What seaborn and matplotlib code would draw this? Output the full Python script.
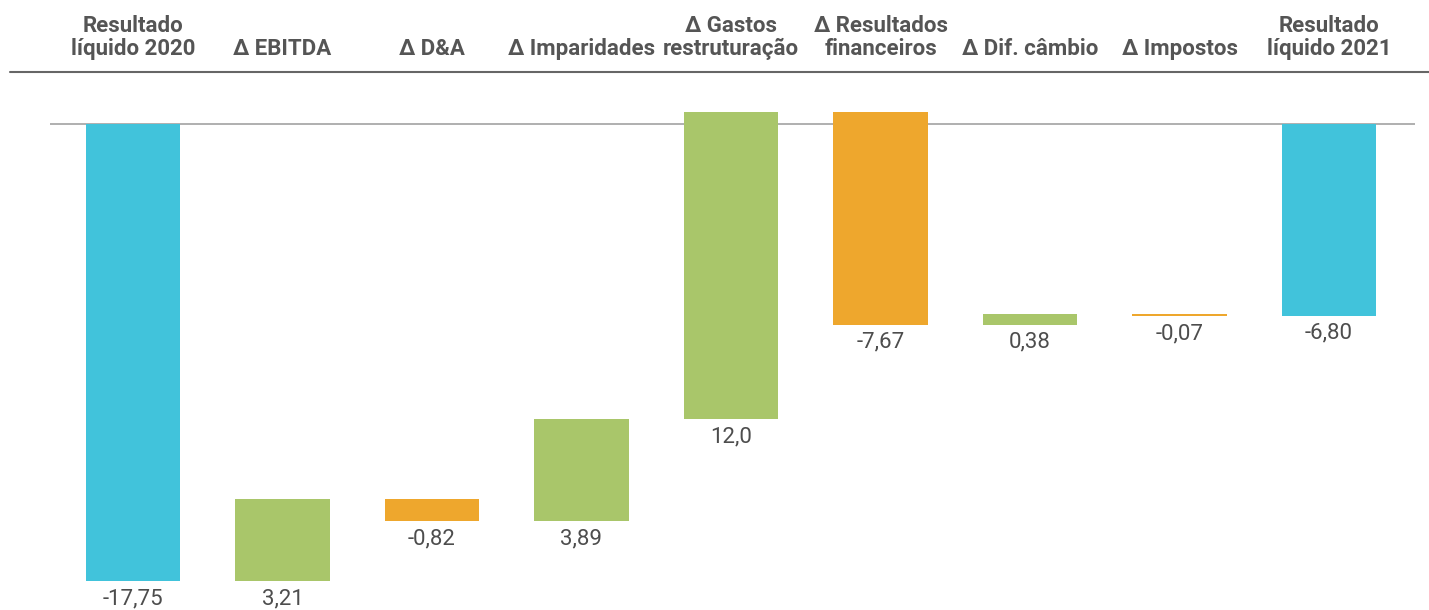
import matplotlib
matplotlib.use("Agg")
import matplotlib.pyplot as plt
import matplotlib.transforms as mtransforms
from matplotlib import font_manager
import seaborn as sns
import numpy as np

sns.set_theme(style="white")

# fonte: a primeira que existir
nomes = {f.name for f in font_manager.fontManager.ttflist}
familia = [n for n in ["Liberation Sans Narrow", "DejaVu Sans Condensed", "Roboto", "DejaVu Sans"] if n in nomes]
plt.rcParams['font.family'] = familia

# dados
categorias = ["Resultado\nlíquido 2020", "Δ EBITDA", "Δ D&A", "Δ Imparidades",
              "Δ Gastos\nrestruturação", "Δ Resultados\nfinanceiros", "Δ Dif. câmbio",
              "Δ Impostos", "Resultado\nlíquido 2021"]
# valores anunciados nos rótulos
rotulos = ["-17,75", "3,21", "-0,82", "3,89", "12,0", "-7,67", "0,38", "-0,07", "-6,80"]
# alturas das barras tal como desenhadas no gráfico original (não está à escala exata)
alturas = [-17.75, 3.20, -0.87, 3.96, 11.92, -8.26, 0.42, -0.09, -7.45]
tipo = ["total", "delta", "delta", "delta", "delta", "delta", "delta", "delta", "total"]

cores = {"total": "#41C3DB", "pos": "#A9C66A", "neg": "#EEA72D"}

# base e topo de cada barra (cascata)
inicio, fim = [], []
acum = 0.0
for v, t in zip(alturas, tipo):
    if t == "total":
        inicio.append(0.0)
        fim.append(v)
        acum = v
    else:
        inicio.append(acum)
        acum = acum + v
        fim.append(acum)
baixo = np.minimum(inicio, fim)
alto = np.maximum(inicio, fim)

paleta = []
for v, t in zip(alturas, tipo):
    if t == "total":
        paleta.append(cores["total"])
    elif v >= 0:
        paleta.append(cores["pos"])
    else:
        paleta.append(cores["neg"])

fig = plt.figure(figsize=(14.29, 6.10), dpi=100)
ax = fig.add_axes([50 / 1429, 0.0, (1415 - 50) / 1429, 1 - 90 / 610])

x = list(range(len(categorias)))
sns.barplot(x=x, y=alturas, hue=x, palette=paleta, legend=False, width=0.63,
            saturation=1, ax=ax, native_scale=True)

# reposiciona as barras para formar a cascata
for p in ax.patches:
    i = int(round(p.get_x() + p.get_width() / 2))
    p.set_y(baixo[i])
    p.set_height(alto[i] - baixo[i])
    p.set_edgecolor("none")

ax.set_xlim(-0.555, 8.575)
ax.set_ylim(-18.87, 1.32)
ax.axhline(0, color="#9a9a9a", lw=1.1, zorder=0)

for i in x:
    ax.annotate(rotulos[i], (i, baixo[i]), xytext=(0, -5), textcoords="offset points",
                ha="center", va="top", fontsize=16, color="#4d4d4d")

# cabeçalhos
trans = mtransforms.blended_transform_factory(ax.transData, fig.transFigure)
for i, c in enumerate(categorias):
    ax.text(i, 1 - 60 / 610, c, transform=trans, ha="center", va="bottom",
            multialignment="center", fontsize=16, fontweight="bold", color="#555555",
            linespacing=1.05)

fig.add_artist(plt.Line2D([10 / 1429, 1.0], [1 - 72 / 610, 1 - 72 / 610],
                          transform=fig.transFigure, color="#666666", lw=1.5))

ax.set_xlabel("")
ax.set_ylabel("")
ax.set_xticks([])
ax.set_yticks([])
sns.despine(ax=ax, left=True, bottom=True)

fig.savefig("out.png", dpi=100)
